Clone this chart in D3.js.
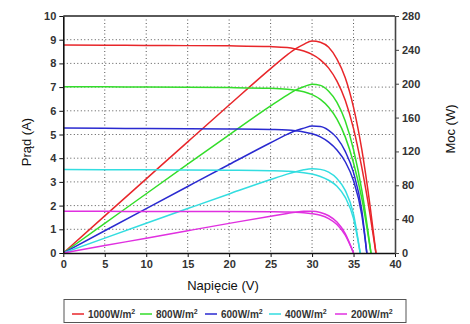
<!DOCTYPE html>
<html><head><meta charset="utf-8">
<script src="https://cdn.jsdelivr.net/npm/d3@7"></script>
<style>
html,body{margin:0;padding:0;background:#fff;}
svg{display:block;font-family:"Liberation Sans",Arial,sans-serif;}
</style></head>
<body><svg id="c" width="470" height="324"></svg>
<script>
// ---- data ----
const seriesNames = ["1000W/m", "800W/m", "600W/m", "400W/m", "200W/m"];
const seriesColors = ["#e8262a", "#33dd2a", "#2a2ad0", "#33dde0", "#e030e0"];

const v1000 = [0,5,10,15,20,25,27,28,29,30,31,32,33,34,35,36,37,37.7];
const i1000 = [8.78,8.77,8.76,8.75,8.74,8.71,8.67,8.61,8.52,8.38,8.15,7.8,7.25,6.45,5.25,3.6,1.6,0];
const p1000 = [0,43.9,87.6,131.3,174.8,217.8,234.1,241.1,246.5,250.5,249,243,229,207,172,122,55,0];

const v800 = [0,5,10,15,20,25,27,28,29,30,31,32,33,34,35,36,37.1];
const i800 = [7.02,7.01,7.0,6.99,6.98,6.95,6.91,6.87,6.8,6.68,6.48,6.15,5.65,4.9,3.8,2.3,0];
const p800 = [0,35,70,104.9,139.6,173.8,186.6,192.4,196.5,199.5,198,191,178,156,122,74,0];

const v600 = [0,5,10,15,20,25,27,28,29,30,31,32,33,34,35,36,36.6];
const i600 = [5.27,5.26,5.25,5.24,5.23,5.21,5.19,5.16,5.11,5.03,4.9,4.68,4.35,3.85,3.05,1.6,0];
const p600 = [0,26.3,52.5,78.6,104.6,130.3,140.1,144.5,147.5,150,149.5,145,136,120,95,50,0];

const v400 = [0,5,10,15,20,25,27,28,29,30,31,32,33,34,35,35.8];
const i400 = [3.52,3.51,3.51,3.50,3.49,3.47,3.45,3.43,3.39,3.33,3.23,3.07,2.82,2.35,1.45,0];
const p400 = [0,17.6,35.1,52.5,69.8,86.8,93.2,96,98.3,99.5,98.8,95.5,88,74,46,0];

const v200 = [0,5,10,15,20,25,27,28,29,30,31,32,33,34,35];
const i200 = [1.76,1.76,1.75,1.75,1.75,1.74,1.73,1.72,1.70,1.66,1.59,1.45,1.2,0.75,0];
const p200 = [0,8.8,17.5,26.3,35,43.5,46.7,48.2,49.2,49.3,47.9,44,36.5,23,0];

const xTicks = [0,5,10,15,20,25,30,35,40];
const yTicks = [0,1,2,3,4,5,6,7,8,9,10];
const pTicks = [0,40,80,120,160,200,240,280];

const volts = [v1000, v800, v600, v400, v200];
const currents = [i1000, i800, i600, i400, i200];
const powers = [p1000, p800, p600, p400, p200];

// ---- layout ----
const L = 63.3, R = 395, T = 16, B = 253;
const svg = d3.select("#c");
const x = d3.scaleLinear().domain([0,40]).range([L,R]);
const y = d3.scaleLinear().domain([0,10]).range([B,T]);
const yp = d3.scaleLinear().domain([0,280]).range([B,T]);

// grid
const grid = svg.append("g").attr("stroke","#555").attr("stroke-width",1).attr("stroke-dasharray","1,2.5");
grid.selectAll("line.v").data(xTicks.slice(1,-1)).join("line")
  .attr("x1",d=>x(d)).attr("x2",d=>x(d)).attr("y1",T).attr("y2",B);
grid.selectAll("line.h").data(yTicks.slice(1,-1)).join("line")
  .attr("x1",L).attr("x2",R).attr("y1",d=>y(d)).attr("y2",d=>y(d));

// top border
svg.append("line").attr("x1",L).attr("x2",R).attr("y1",T).attr("y2",T).attr("stroke","#5a5a5a").attr("stroke-width",2.2);

// curves
const lineI = d3.line().curve(d3.curveMonotoneX);
const g = svg.append("g").attr("fill","none").attr("stroke-width",1.5);
seriesNames.forEach((n,k)=>{
  const pi = volts[k].map((v,j)=>[x(v), y(currents[k][j])]);
  const pp = volts[k].map((v,j)=>[x(v), yp(powers[k][j])]);
  g.append("path").attr("d",lineI(pi)).attr("stroke",seriesColors[k]);
  g.append("path").attr("d",lineI(pp)).attr("stroke",seriesColors[k]);
});

function styleAxis(sel, col){
  sel.selectAll("text").attr("font-size",11).attr("font-weight","bold").attr("fill","#333")
     .attr("font-family","'Liberation Sans',Arial,sans-serif");
  sel.selectAll("line").attr("stroke",col);
  sel.select(".domain").attr("stroke",col).attr("stroke-width",1.6);
}
const ax = svg.append("g").attr("transform",`translate(0,${B})`)
  .call(d3.axisBottom(x).tickValues(xTicks).tickSize(4).tickSizeOuter(0).tickPadding(3));
styleAxis(ax,"#111");
const ay = svg.append("g").attr("transform",`translate(${L},0)`)
  .call(d3.axisLeft(y).tickValues(yTicks).tickSize(4).tickSizeOuter(0).tickPadding(3));
styleAxis(ay,"#111");
const ap = svg.append("g").attr("transform",`translate(${R},0)`)
  .call(d3.axisRight(yp).tickValues(pTicks).tickSize(4).tickSizeOuter(0).tickPadding(3));
styleAxis(ap,"#444");

// titles
svg.append("text").attr("transform","translate(31,142) rotate(-90)").attr("text-anchor","middle")
  .attr("font-size",13).attr("fill","#111").text("Prąd (A)");
svg.append("text").attr("transform","translate(455,129) rotate(-90)").attr("text-anchor","middle")
  .attr("font-size",13).attr("fill","#111").text("Moc (W)");
svg.append("text").attr("x",223).attr("y",290).attr("text-anchor","middle")
  .attr("font-size",13).attr("fill","#111").text("Napięcie (V)");

// legend
svg.append("rect").attr("x",64).attr("y",299.5).attr("width",342).attr("height",23)
  .attr("fill","#fff").attr("stroke","#555").attr("stroke-width",1);
const legX = [72, 140, 205, 269, 335];
seriesNames.forEach((n,k)=>{
  const lg = svg.append("g").attr("transform",`translate(${legX[k]},314)`);
  lg.append("line").attr("x1",0).attr("x2",12).attr("y1",0).attr("y2",0)
    .attr("stroke",seriesColors[k]).attr("stroke-width",1.5);
  const t = lg.append("text").attr("x",16).attr("y",4).attr("font-size",10).attr("font-weight","bold").attr("fill","#333");
  t.append("tspan").text(n);
  t.append("tspan").attr("dy",-4).attr("font-size",7).text("2");
});
</script></body></html>
